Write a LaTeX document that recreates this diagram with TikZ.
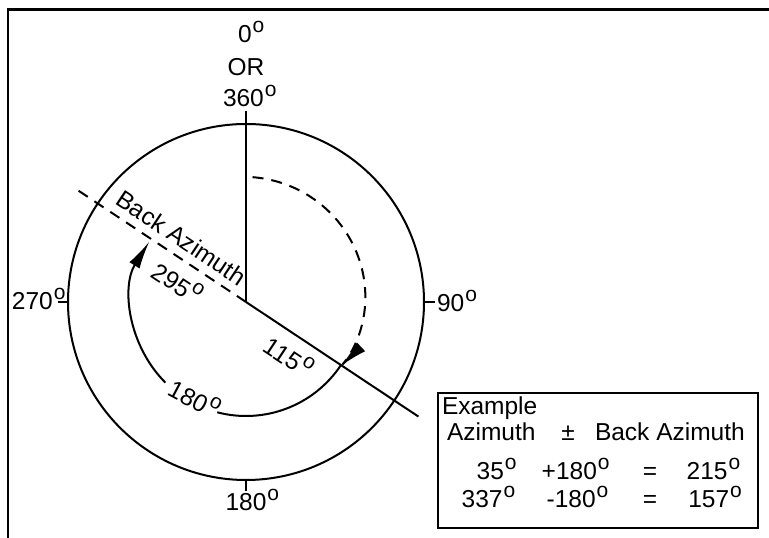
\documentclass[tikz,border=0pt]{standalone}
\usepackage{fontspec}
\setmainfont{Liberation Sans}
\usetikzlibrary{arrows.meta}
\newcommand\dg{\kern1pt\raisebox{10.5pt}{\fontsize{21}{21}\selectfont o}}
\begin{document}
\begin{tikzpicture}[x=1pt,y=1pt,font=\fontsize{24.5}{28}\selectfont,
  ln/.style={line width=2pt},
  lbl/.style={inner sep=0pt,outer sep=0pt},
  dsh/.style={dash pattern=on 11pt off 8pt},
  arrowtip/.style={arrows={-Latex[length=28pt,width=12pt]}}]
\useasboundingbox (0,0) rectangle (769,538);
\coordinate (C) at (246,236);
\coordinate (Ntop) at (246,427);
% frame
\draw[line width=2.4pt] (8,0) -- (8,528.5) -- (769,528.5);
% circle and ticks
\draw[ln] (C) circle[radius=178];
\draw[ln] (C) -- (Ntop);
\draw[ln] (C) ++(180:178) -- +(-10,0);
\draw[ln] (C) ++(0:178) -- +(11,0);
\draw[ln] (C) ++(-90:178) -- +(0,-11);
% azimuth line and back azimuth line
\draw[ln] (C) -- +(-33.6:207);
\draw[ln,dsh] (C) ++(146.4:201) -- (C);
% arcs
\draw[ln,dsh,arrowtip] plot[domain=87:-34.1,samples=80,smooth]
  ({246+(114.2+10.8*((\x+34.2)/121.2)^0.6)*cos(\x)},
   {236+(114.2+10.8*((\x+34.2)/121.2)^0.6)*sin(\x)});
\draw[ln] (C) ++(-33.6:114) arc[start angle=-33.6,end angle=-104.6,radius=114];
\draw[ln,arrowtip] (C) ++(225:114) arc[start angle=225,end angle=148,radius=114];
% compass labels
\node[lbl,anchor=base west] (n0) at (238,495) {0\dg};
\node[lbl,anchor=base] (nor) at (246,462) {OR};
\node[lbl,anchor=base west] (n360) at (223,431) {360\dg};
\node[lbl,anchor=base west] (n270) at (12,228) {270\dg};
\node[lbl,anchor=base west] (n90) at (437,226) {90\dg};
\node[lbl,anchor=base west] (n180) at (225.6,27) {180\dg};
% rotated labels
\node[lbl,rotate=-33.6] (ba) at (181.5,300) {Back Azimuth};
\node[lbl,rotate=-33.6] (l295) at (178,256) {295\dg};
\node[lbl,rotate=-33.6] (l115) at (289.5,182) {115\dg};
\node[lbl,rotate=-28] (l180) at (195,140) {180\dg};
% example box
\node[draw,line width=2pt,minimum width=320pt,minimum height=135pt,anchor=north west,inner sep=0pt] (box) at (437,146) {};
\node[lbl,anchor=base west] (ex) at (442,123) {Example};
\node[lbl,anchor=base west] (h1) at (447,97) {Azimuth};
\node[lbl,anchor=base] (h2) at (568,97) {±};
\node[lbl,anchor=base west] (h3) at (595,97) {Back Azimuth};
\node[lbl,anchor=base west] (a1) at (476.7,58) {35\dg};
\node[lbl,anchor=base west] (b1) at (541.7,58) {+180\dg};
\node[lbl,anchor=base] (c1) at (650,58) {=};
\node[lbl,anchor=base west] (d1) at (686.7,58) {215\dg};
\node[lbl,anchor=base west] (a2) at (461.7,30) {337\dg};
\node[lbl,anchor=base west] (b2) at (546.7,30) {-180\dg};
\node[lbl,anchor=base] (c2) at (650,30) {=};
\node[lbl,anchor=base west] (d2) at (688.3,30) {157\dg};
\end{tikzpicture}
\end{document}
